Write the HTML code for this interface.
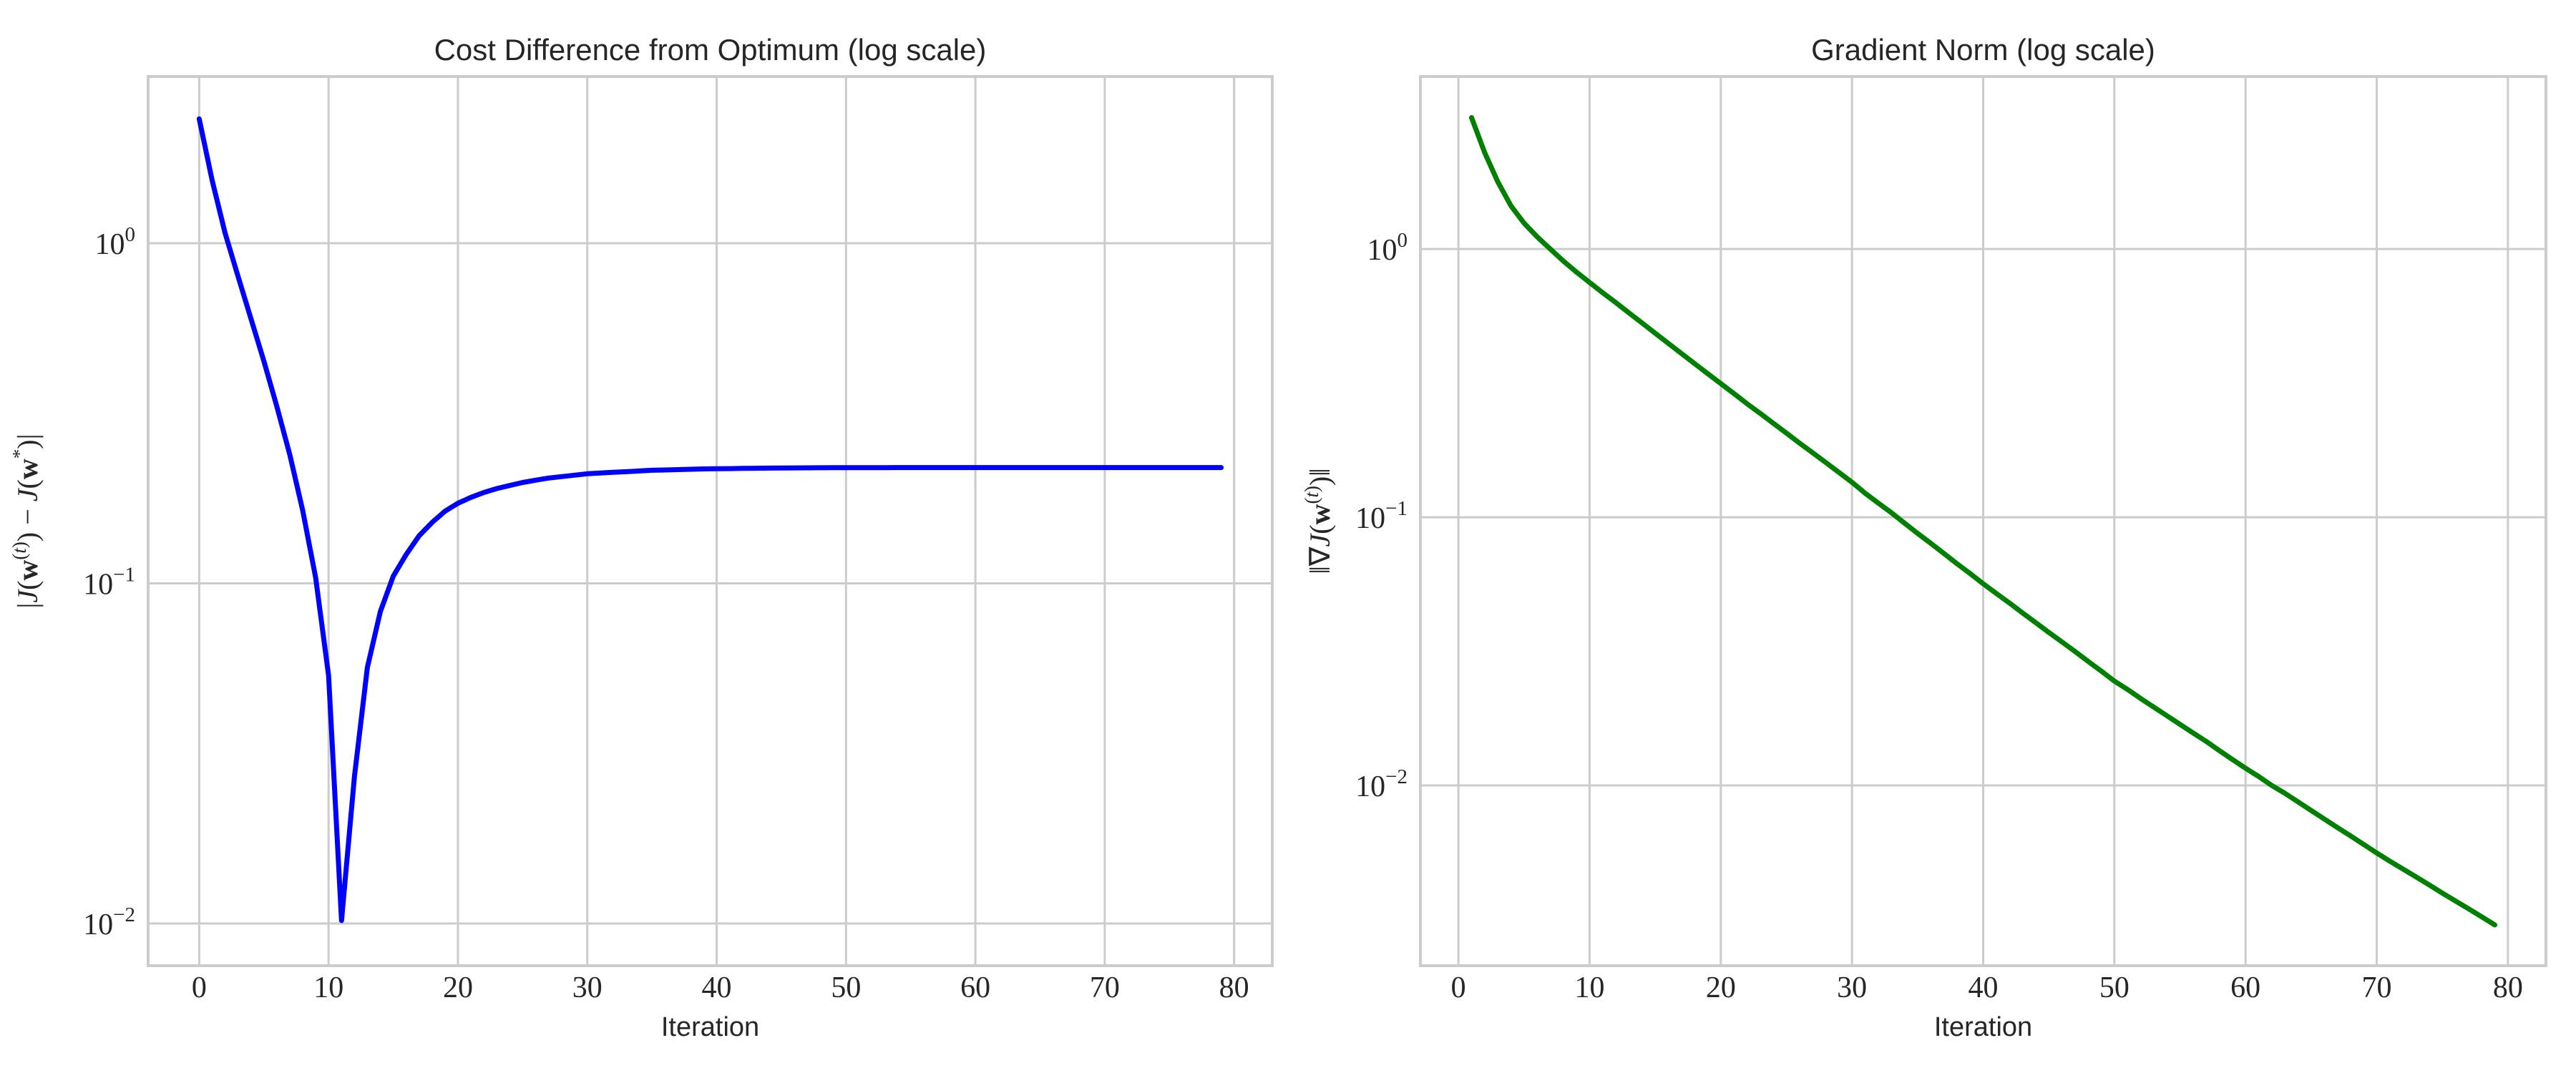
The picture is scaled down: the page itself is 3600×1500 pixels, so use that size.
<!DOCTYPE html>
<html><head><meta charset="utf-8"><style>
html,body{margin:0;padding:0;background:#fff;}
svg{display:block;}
text{fill:#262626;}
.tick{font-family:"Liberation Serif",serif;font-size:42px;}
.title{font-family:"Liberation Sans",sans-serif;font-size:42px;}
.xl{font-family:"Liberation Sans",sans-serif;font-size:38px;}
.yl{font-family:"Liberation Serif",serif;font-size:40px;}
</style></head><body>
<svg id="fig" width="3600" height="1500" viewBox="0 0 3600 1500" xmlns="http://www.w3.org/2000/svg">
<rect width="3600" height="1500" fill="#fff"/>
</svg>
<script>
const iterLeft = [];
for (let i = 0; i < 80; i++) iterLeft.push(i);
const costDiff = [2.32,1.53,1.07,0.80,0.60,0.45,0.331,0.239,0.164,0.104,0.0536,0.0102,0.027,0.0566,0.0826,0.105,0.1216,0.138,0.151,0.163,0.172,0.179,0.185,0.190,0.194,0.198,0.201,0.204,0.206,0.208,0.210,0.211,0.212,0.213,0.214,0.215,0.2155,0.216,0.2165,0.217,0.2172,0.2175,0.2178,0.218,0.2182,0.2184,0.2185,0.2186,0.2187,0.2188,0.2188,0.2189,0.2189,0.2189,0.219,0.219,0.219,0.219,0.219,0.219,0.219,0.219,0.219,0.219,0.219,0.219,0.219,0.219,0.219,0.219,0.219,0.219,0.219,0.219,0.219,0.219,0.219,0.219,0.219,0.219];
const iterRight = [];
for (let i = 1; i < 80; i++) iterRight.push(i);
const gradNorm = [3.09,2.29,1.78,1.45,1.25,1.11,1.00,0.902,0.820,0.750,0.687,0.631,0.578,0.530,0.485,0.445,0.408,0.374,0.343,0.315,0.289,0.265,0.244,0.224,0.206,0.189,0.174,0.160,0.147,0.135,0.123,0.113,0.104,0.0951,0.0871,0.0800,0.0733,0.0671,0.0617,0.0565,0.0520,0.0479,0.0440,0.0405,0.0372,0.0343,0.0316,0.0290,0.0267,0.0245,0.0228,0.0211,0.0196,0.0182,0.0169,0.0157,0.0146,0.0135,0.0125,0.0116,0.0108,0.0100,0.00935,0.00869,0.00807,0.00750,0.00697,0.00649,0.00603,0.00560,0.00522,0.00488,0.00456,0.00426,0.00397,0.00371,0.00347,0.00324,0.00302];
const xTicks = [0,10,20,30,40,50,60,70,80];
const yTickExp = [0,-1,-2];

const NS = "http://www.w3.org/2000/svg";
const fig = document.getElementById('fig');
function mk(tag, attrs, parent){const e=document.createElementNS(NS,tag);for(const k in attrs)e.setAttribute(k,attrs[k]);(parent||fig).appendChild(e);return e;}

function panel(cfg){
  const g = mk('g',{});
  
  
  const sx = v => cfg.x0 + (v - cfg.xmin)/(cfg.xmax - cfg.xmin)*(cfg.x1 - cfg.x0);
  const sy = v => cfg.y1 - (Math.log10(v) - cfg.lmin)/(cfg.lmax - cfg.lmin)*(cfg.y1 - cfg.y0);
  xTicks.forEach(t=>{
    const l = mk('line',{x1:sx(t),x2:sx(t),y1:cfg.y0,y2:cfg.y1,stroke:'#cccccc','stroke-width':3},g);
    
    
    const tx = mk('text',{x:sx(t),y:1394,'text-anchor':'middle',class:'tick'},g);
    
    
    tx.textContent = t;
  });
  yTickExp.forEach(e=>{
    const y = sy(Math.pow(10,e));
    const l = mk('line',{x1:cfg.x0,x2:cfg.x1,y1:y,y2:y,stroke:'#cccccc','stroke-width':3},g);
    
    
    const tx = mk('text',{x:cfg.x0-18,y:y+15,'text-anchor':'end',class:'tick'},g);
    
    
    tx.appendChild(document.createTextNode('10'));
    const sup = mk('tspan',{dy:-18,'font-size':29},tx);
    sup.textContent = e===0 ? '0' : '\u2212'+(-e);
  });
  const fr = mk('rect',{x:cfg.x0,y:cfg.y0,width:cfg.x1-cfg.x0,height:cfg.y1-cfg.y0,fill:'none',stroke:'#cccccc','stroke-width':4},g);
  
  
  const d = cfg.xs.map((x,i)=>(i?'L':'M')+sx(x).toFixed(1)+' '+sy(cfg.ys[i]).toFixed(1)).join(' ');
  const p = mk('path',{d:d,fill:'none',stroke:cfg.color,'stroke-width':7,'stroke-linejoin':'round','stroke-linecap':'round'},g);
  
  
  const cx = (cfg.x0+cfg.x1)/2;
  const ti = mk('text',{x:cx,y:84,'text-anchor':'middle',class:'title'},g);
  
  
  ti.textContent = cfg.title;
  const xl = mk('text',{x:cx,y:1448,'text-anchor':'middle',class:'xl'},g);
  
  
  xl.textContent = 'Iteration';
  const yl = mk('text',{x:0,y:0,'text-anchor':'middle',class:'yl',transform:'translate('+cfg.ylx+','+((cfg.y0+cfg.y1)/2)+') rotate(-90)'},g);
  
  
  yl.innerHTML = cfg.ylabel;
}

panel({name:'cost-difference-panel',x0:207,x1:1778,y0:107,y1:1350,xmin:-3.95,xmax:82.95,lmin:-2.124,lmax:0.49,
  xs:iterLeft,ys:costDiff,color:'#0000ff',lineName:'cost-difference-line',title:'Cost Difference from Optimum (log scale)',ylx:52,
  ylabel:'|<tspan font-style="italic">J</tspan>(<tspan font-weight="bold">w</tspan><tspan dy="-16" font-size="27">(<tspan font-style="italic">t</tspan>)</tspan><tspan dy="16">)</tspan> \u2212 <tspan font-style="italic">J</tspan>(<tspan font-weight="bold">w</tspan><tspan dy="-16" font-size="27">*</tspan><tspan dy="16">)|</tspan>'});
panel({name:'gradient-norm-panel',x0:1985,x1:3558,y0:107,y1:1350,xmin:-2.9,xmax:82.9,lmin:-2.672,lmax:0.643,
  xs:iterRight,ys:gradNorm,color:'#008000',lineName:'gradient-norm-line',title:'Gradient Norm (log scale)',ylx:1858,
  ylabel:'\u2016\u2207<tspan font-style="italic">J</tspan>(<tspan font-weight="bold">w</tspan><tspan dy="-16" font-size="27">(<tspan font-style="italic">t</tspan>)</tspan><tspan dy="16">)\u2016</tspan>'});
</script>
</body></html>
